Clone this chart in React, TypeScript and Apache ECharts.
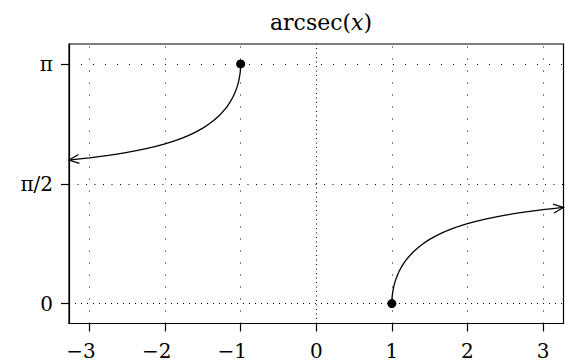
import React, { useEffect, useRef } from "react";
import * as echarts from "echarts";

const PI = Math.PI;

// arcsec(x) sampled on the two branches
const rightX = [1, 1.002, 1.005, 1.01, 1.02, 1.035, 1.05, 1.075, 1.1, 1.15, 1.2, 1.3, 1.4, 1.5, 1.65, 1.8, 2, 2.25, 2.5, 2.75, 3, 3.27];
const rightY = [0, 0.0632, 0.0998, 0.1408, 0.1984, 0.2608, 0.3098, 0.3758, 0.4297, 0.5165, 0.5857, 0.6932, 0.7752, 0.8411, 0.9197, 0.9818, 1.0472, 1.1102, 1.1593, 1.1986, 1.231, 1.26];
const leftX = [-3.27, -3, -2.75, -2.5, -2.25, -2, -1.8, -1.65, -1.5, -1.4, -1.3, -1.2, -1.15, -1.1, -1.075, -1.05, -1.035, -1.02, -1.01, -1.005, -1.002, -1];
const leftY = [1.8816, 1.9106, 1.943, 1.9823, 2.0314, 2.0944, 2.1598, 2.2219, 2.3005, 2.3664, 2.4484, 2.5559, 2.6251, 2.7119, 2.7658, 2.8318, 2.8808, 2.9432, 3.0008, 3.0418, 3.0784, 3.1416];

// closed end points of the branches
const endX = [-1, 1];
const endY = [PI, 0];

// axis ticks and limits
const xTicks = [-3, -2, -1, 0, 1, 2, 3];
const yTicks = [0, PI / 2, PI];
const yTickLabels = ["0", "π/2", "π"];
const xRange = [-3.27, 3.27];
const yRange = [-PI / 12, (13 * PI) / 12];

const SERIF = "'DejaVu Serif', 'Liberation Serif', serif";
const LABEL_SIZE = 20;
const TITLE_SIZE = 22;

export default function App() {
  const ref = useRef<HTMLDivElement>(null);

  useEffect(() => {
    if (!ref.current) return;
    const chart = echarts.init(ref.current, undefined, { renderer: "svg" });

    const toPairs = (xs: number[], ys: number[]) => xs.map((x, i) => [x, ys[i]]);
    const n = rightX.length;
    const arrowData = [
      [leftX[0], leftY[0], leftX[1], leftY[1]],
      [rightX[n - 1], rightY[n - 1], rightX[n - 2], rightY[n - 2]],
    ];

    const vGrid = xTicks.map((v) => ({
      xAxis: v,
      lineStyle: { color: "#000", width: 1, type: v === 0 ? [1, 3.5] : [1, 11] },
    }));
    const hDash = [[1, 5], [1, 7.5], [1, 11]];
    const hGrid = yTicks.map((v, i) => ({
      yAxis: v,
      lineStyle: { color: "#000", width: 1, type: hDash[i] },
    }));

    const labelFont = { fontFamily: SERIF, fontSize: LABEL_SIZE, color: "#000", fontWeight: "normal" };

    chart.setOption({
      animation: false,
      backgroundColor: "#fff",
      title: {
        text: "{a|arcsec(}{b|x}{a|)}",
        left: 316,
        top: 6,
        textAlign: "center",
        textStyle: {
          fontWeight: "normal",
          rich: {
            a: { fontFamily: SERIF, fontSize: TITLE_SIZE, fontWeight: "normal", color: "#000" },
            b: { fontFamily: SERIF, fontSize: TITLE_SIZE, fontWeight: "normal", fontStyle: "italic", color: "#000" },
          },
        },
      },
      grid: {
        left: 69,
        right: 1.5,
        top: 44,
        bottom: 38.5,
        show: true,
        borderColor: "#000",
        borderWidth: 1.2,
        backgroundColor: "transparent",
      },
      xAxis: {
        type: "value",
        min: xRange[0],
        max: xRange[1],
        axisLine: { show: true, onZero: false, lineStyle: { color: "#000", width: 1.2 } },
        axisTick: { show: true, customValues: xTicks, length: 8, lineStyle: { color: "#000", width: 1.2 } },
        axisLabel: {
          customValues: xTicks,
          margin: 17,
          ...labelFont,
          formatter: (v: number) =>
            v < 0 ? `{m|−}{d|${-v}}{p| }` : `{d|${v}}`,
          rich: {
            m: { ...labelFont },
            d: { ...labelFont },
            p: { ...labelFont, width: 16.8 },
          },
        },
        splitLine: { show: false },
      },
      yAxis: {
        type: "value",
        min: yRange[0],
        max: yRange[1],
        axisLine: { show: true, onZero: false, lineStyle: { color: "#000", width: 1.2 } },
        axisTick: { show: true, customValues: yTicks, length: 8, lineStyle: { color: "#000", width: 1.2 } },
        axisLabel: {
          customValues: yTicks,
          margin: 16,
          ...labelFont,
          formatter: (v: number) => {
            let best = 0;
            yTicks.forEach((t, i) => {
              if (Math.abs(t - v) < Math.abs(yTicks[best] - v)) best = i;
            });
            return yTickLabels[best];
          },
        },
        splitLine: { show: false },
      },
      series: [
        {
          name: "grid",
          type: "line",
          data: [],
          silent: true,
          z: 1,
          markLine: {
            silent: true,
            symbol: "none",
            label: { show: false },
            animation: false,
            data: [...vGrid, ...hGrid],
          },
        },
        {
          type: "line",
          data: toPairs(leftX, leftY),
          showSymbol: false,
          symbol: "none",
          smooth: 0.2,
          lineStyle: { color: "#000", width: 1.3 },
          z: 3,
        },
        {
          type: "line",
          data: toPairs(rightX, rightY),
          showSymbol: false,
          symbol: "none",
          smooth: 0.2,
          lineStyle: { color: "#000", width: 1.3 },
          z: 3,
        },
        {
          type: "custom",
          clip: false,
          z: 4,
          data: arrowData,
          renderItem: (_params: any, api: any) => {
            const tip = api.coord([api.value(0), api.value(1)]);
            const prev = api.coord([api.value(2), api.value(3)]);
            let dx = tip[0] - prev[0];
            let dy = tip[1] - prev[1];
            const len = Math.hypot(dx, dy) || 1;
            dx /= len;
            dy /= len;
            const L = 10;
            const W = 4.5;
            const bx = tip[0] - L * dx;
            const by = tip[1] - L * dy;
            return {
              type: "polyline",
              shape: {
                points: [
                  [bx - W * dy, by + W * dx],
                  tip,
                  [bx + W * dy, by - W * dx],
                ],
              },
              style: { stroke: "#000", lineWidth: 1.3, fill: "none" },
            };
          },
        },
        {
          type: "scatter",
          data: toPairs(endX, endY),
          symbol: "circle",
          symbolSize: 9,
          itemStyle: { color: "#000", opacity: 1 },
          z: 5,
        },
      ],
    });

    return () => chart.dispose();
  }, []);

  return (
    <div
      ref={ref}
      style={{ position: "fixed", left: 0, top: 0, width: 565, height: 362, background: "#fff" }}
    />
  );
}
